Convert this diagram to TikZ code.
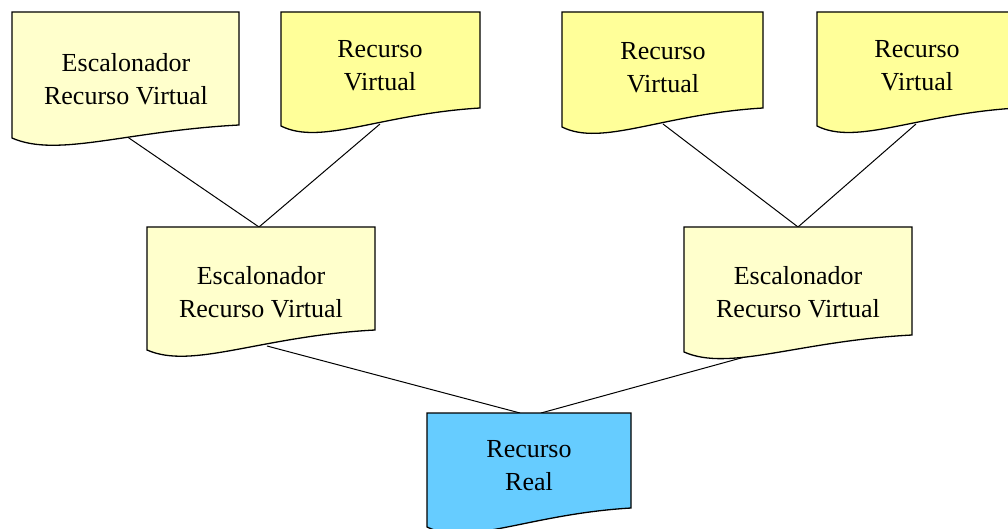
\documentclass[tikz,border=0pt]{standalone}
\usepackage{fontspec}
\setmainfont{Liberation Serif}
\definecolor{paleyellow}{HTML}{FFFFCC}
\definecolor{brightyellow}{HTML}{FFFF99}
\definecolor{realblue}{HTML}{66CCFF}

% Flowchart "document" outline: #1 style, #2 left x, #3 right x,
% #4 top y, #5 bottom of left side, #6 bottom of right side
\newcommand\docshape[6]{%
  \pgfmathsetmacro\dsA{#2+0.5*(#3-#2)}%
  \pgfmathsetmacro\dsB{#6+6}%
  \pgfmathsetmacro\dsC{#2+0.2*(#3-#2)}%
  \pgfmathsetmacro\dsD{#5+20}%
  \path[#1] (#2,#4) -- (#3,#4) -- (#3,#6)
    .. controls (\dsA,\dsB) and (\dsC,\dsD) .. (#2,#5) -- cycle;}

\begin{document}
\begin{tikzpicture}[x=1pt,y=-1pt,
  docline/.style={draw=black,line width=1.3pt,line join=miter},
  pale/.style={docline,fill=paleyellow},
  bright/.style={docline,fill=brightyellow},
  real/.style={docline,fill=realblue},
  lbl/.style={align=center,font=\fontsize{26}{33}\selectfont,inner sep=0pt},
  link/.style={draw=black,line width=1pt}]
\useasboundingbox (0,0) rectangle (1008,529);
\clip (0,0) rectangle (1008,529);

% connection points on the boxes
\coordinate (sched1-bot) at (126,136);
\coordinate (virt1-bot)  at (380,124);
\coordinate (virt2-bot)  at (663,124);
\coordinate (virt3-bot)  at (916,124);
\coordinate (schedL-top) at (259,227);
\coordinate (schedR-top) at (798,227);
\coordinate (schedL-bot) at (267,346);
\coordinate (schedR-bot) at (752,355);
\coordinate (real-topL)  at (520,413);
\coordinate (real-topR)  at (541,413);

% connectors, drawn first so the boxes cover their ends
\draw[link] (sched1-bot) -- (schedL-top);
\draw[link] (virt1-bot)  -- (schedL-top);
\draw[link] (virt2-bot)  -- (schedR-top);
\draw[link] (virt3-bot)  -- (schedR-top);
\draw[link] (schedL-bot) -- (real-topL);
\draw[link] (schedR-bot) -- (real-topR);

% top row
\docshape{pale}{12}{239}{12}{138}{125}
\node[lbl] (sched1) at (126,79.6) {Escalonador\\Recurso Virtual};
\docshape{bright}{281}{480}{12}{126}{108}
\node[lbl] (virt1) at (380,65.6) {Recurso\\Virtual};
\docshape{bright}{562}{763}{12}{127}{108}
\node[lbl] (virt2) at (663,67.6) {Recurso\\Virtual};
\docshape{bright}{817}{1017}{12}{126}{108}
\node[lbl] (virt3) at (917,65.6) {Recurso\\Virtual};

% middle row
\docshape{pale}{147}{375}{227}{350}{330}
\node[lbl] (schedL) at (261,292.6) {Escalonador\\Recurso Virtual};
\docshape{pale}{684}{912}{227}{352}{335}
\node[lbl] (schedR) at (798,292.6) {Escalonador\\Recurso Virtual};

% bottom
\docshape{real}{427}{631}{413}{527}{508}
\node[lbl] (real) at (529,465.6) {Recurso\\Real};
\end{tikzpicture}
\end{document}
